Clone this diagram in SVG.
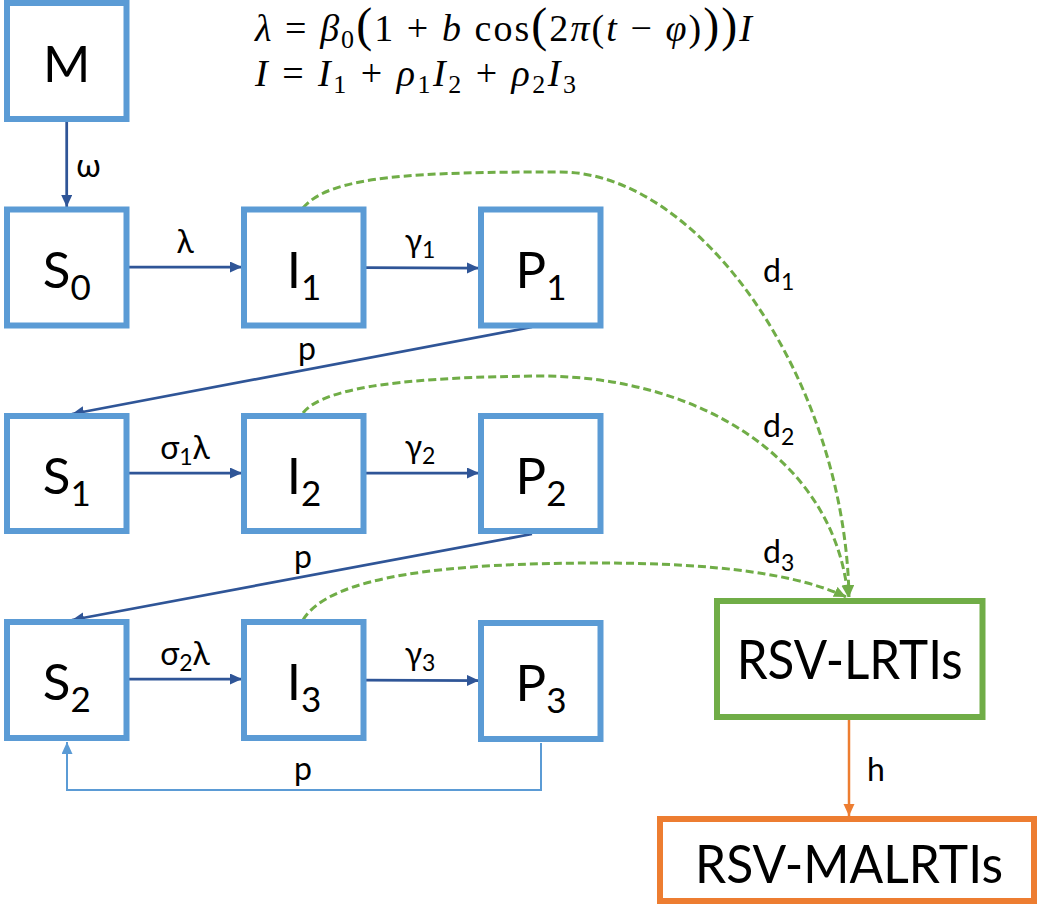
<svg xmlns="http://www.w3.org/2000/svg" width="1042" height="905" viewBox="0 0 1042 905">
<defs>
<style>
.box{fill:#fff;stroke:#5B9BD5;stroke-width:6}
.lt{font-family:Lato,"Open Sans","DejaVu Sans",sans-serif;fill:#000}
.big{font-size:51px}
.bsub{font-size:35px}
.lbl{font-size:32px}
.lsub{font-size:23px}
.math{font-family:"Liberation Serif","DejaVu Serif",serif;font-size:38px;fill:#000}
.i{font-style:italic}
.ms{font-size:26px}
.bp{font-size:48px}
.arr{stroke:#2F5597;stroke-width:2.75;fill:none}
.dash{stroke:#70AD47;stroke-width:3;fill:none;stroke-dasharray:8 4}
</style>
<marker id="ab" markerUnits="userSpaceOnUse" markerWidth="13" markerHeight="12" refX="12" refY="5.5" orient="auto"><path d="M0,0 L12,5.5 L0,11 z" fill="#2F5597"/></marker>
<marker id="al" markerUnits="userSpaceOnUse" markerWidth="13" markerHeight="12" refX="12" refY="5.5" orient="auto"><path d="M0,0 L12,5.5 L0,11 z" fill="#5B9BD5"/></marker>
<marker id="ag" markerUnits="userSpaceOnUse" markerWidth="13" markerHeight="12" refX="12" refY="5.5" orient="auto"><path d="M0,0 L12,5.5 L0,11 z" fill="#70AD47"/></marker>
<marker id="ao" markerUnits="userSpaceOnUse" markerWidth="13" markerHeight="12" refX="12" refY="5.5" orient="auto"><path d="M0,0 L12,5.5 L0,11 z" fill="#ED7D31"/></marker>
</defs>
<rect width="1042" height="905" fill="#fff"/>

<g id="formula">
<text class="math" x="255" y="41" textLength="497" lengthAdjust="spacing"><tspan class="i">λ</tspan> = <tspan class="i">β</tspan><tspan class="ms" dy="7">0</tspan><tspan class="bp" dy="-7">(</tspan>1 + <tspan class="i">b</tspan> cos<tspan class="bp">(</tspan>2<tspan class="i">π</tspan>(<tspan class="i">t</tspan> − <tspan class="i">φ</tspan>)<tspan class="bp">))</tspan><tspan class="i">I</tspan></text>
<text class="math" x="255" y="86" textLength="321" lengthAdjust="spacing"><tspan class="i">I</tspan> = <tspan class="i">I</tspan><tspan class="ms" dy="7">1</tspan><tspan dy="-7"> + </tspan><tspan class="i">ρ</tspan><tspan class="ms" dy="7">1</tspan><tspan class="i" dy="-7">I</tspan><tspan class="ms" dy="7">2</tspan><tspan dy="-7"> + </tspan><tspan class="i">ρ</tspan><tspan class="ms" dy="7">2</tspan><tspan class="i" dy="-7">I</tspan><tspan class="ms" dy="7">3</tspan></text>
</g>

<g id="connectors">
<line class="arr" x1="66.7" y1="122" x2="66.7" y2="207" marker-end="url(#ab)"/>
<line class="arr" x1="128" y1="267" x2="242" y2="267" marker-end="url(#ab)"/>
<line class="arr" x1="364" y1="267.5" x2="479" y2="268" marker-end="url(#ab)"/>
<line class="arr" x1="532" y1="327" x2="72" y2="414" marker-end="url(#ab)"/>
<line class="arr" x1="128" y1="473" x2="242" y2="473" marker-end="url(#ab)"/>
<line class="arr" x1="364" y1="473" x2="479" y2="473" marker-end="url(#ab)"/>
<line class="arr" x1="532" y1="534" x2="72" y2="620" marker-end="url(#ab)"/>
<line class="arr" x1="128" y1="679" x2="242" y2="679" marker-end="url(#ab)"/>
<line class="arr" x1="364" y1="680" x2="479" y2="680.5" marker-end="url(#ab)"/>
<polyline points="541,743 541,790 67,790 67,742" fill="none" stroke="#5B9BD5" stroke-width="2" marker-end="url(#al)"/>
<path class="dash" d="M303,208 C330,175 420,172 560,172 C700,172 845,380 849,597" marker-end="url(#ag)"/>
<path class="dash" d="M303,413 C325,385 420,377 540,376 C700,376 835,460 848,597" marker-end="url(#ag)"/>
<path class="dash" d="M303,620 C330,575 450,563 600,563 C720,563 800,575 846,597" marker-end="url(#ag)"/>
<line x1="849" y1="720" x2="849" y2="816" stroke="#ED7D31" stroke-width="2.5" marker-end="url(#ao)"/>

<text class="lt lbl" x="88.5" y="177" text-anchor="middle">ω</text>
<text class="lt lbl" x="185" y="253" text-anchor="middle">λ</text>
<text class="lt lbl" x="420" y="252" text-anchor="middle">γ<tspan class="lsub" dy="6">1</tspan></text>
<text class="lt lbl" x="307" y="360" text-anchor="middle">p</text>
<text class="lt lbl" x="185" y="459" text-anchor="middle">σ<tspan class="lsub" dy="6">1</tspan><tspan dy="-6">λ</tspan></text>
<text class="lt lbl" x="420" y="458" text-anchor="middle">γ<tspan class="lsub" dy="6">2</tspan></text>
<text class="lt lbl" x="303" y="568" text-anchor="middle">p</text>
<text class="lt lbl" x="185" y="665" text-anchor="middle">σ<tspan class="lsub" dy="6">2</tspan><tspan dy="-6">λ</tspan></text>
<text class="lt lbl" x="420" y="665" text-anchor="middle">γ<tspan class="lsub" dy="6">3</tspan></text>
<text class="lt lbl" x="303" y="780" text-anchor="middle">p</text>
<text class="lt lbl" x="763" y="282">d<tspan class="lsub" dy="8">1</tspan></text>
<text class="lt lbl" x="763" y="437">d<tspan class="lsub" dy="8">2</tspan></text>
<text class="lt lbl" x="763" y="563">d<tspan class="lsub" dy="8">3</tspan></text>
<text class="lt lbl" x="867" y="781">h</text>
</g>

<g id="node-M"><rect class="box" x="7" y="3" width="119.5" height="116"/><text class="lt big" x="66.7" y="81.5" text-anchor="middle">M</text></g>
<g id="node-S0"><rect class="box" x="7" y="209.5" width="119.5" height="116"/><text class="lt big" x="66.7" y="288" text-anchor="middle">S<tspan class="bsub" dy="12">0</tspan></text></g>
<g id="node-I1"><rect class="box" x="244" y="209.5" width="119.5" height="116"/><text class="lt big" x="304" y="288" text-anchor="middle">I<tspan class="bsub" dy="12">1</tspan></text></g>
<g id="node-P1"><rect class="box" x="481" y="209.5" width="119.5" height="116"/><text class="lt big" x="541" y="288" text-anchor="middle">P<tspan class="bsub" dy="12">1</tspan></text></g>
<g id="node-S1"><rect class="box" x="7" y="416" width="119.5" height="115"/><text class="lt big" x="66.7" y="494" text-anchor="middle">S<tspan class="bsub" dy="12">1</tspan></text></g>
<g id="node-I2"><rect class="box" x="244" y="416" width="119.5" height="115"/><text class="lt big" x="304" y="494" text-anchor="middle">I<tspan class="bsub" dy="12">2</tspan></text></g>
<g id="node-P2"><rect class="box" x="481" y="416" width="119.5" height="115"/><text class="lt big" x="541" y="494" text-anchor="middle">P<tspan class="bsub" dy="12">2</tspan></text></g>
<g id="node-S2"><rect class="box" x="7" y="622" width="119.5" height="116"/><text class="lt big" x="66.7" y="700" text-anchor="middle">S<tspan class="bsub" dy="12">2</tspan></text></g>
<g id="node-I3"><rect class="box" x="244" y="622" width="119.5" height="116"/><text class="lt big" x="304" y="700" text-anchor="middle">I<tspan class="bsub" dy="12">3</tspan></text></g>
<g id="node-P3"><rect class="box" x="481" y="623" width="119.5" height="116"/><text class="lt big" x="541" y="701" text-anchor="middle">P<tspan class="bsub" dy="12">3</tspan></text></g>
<g id="node-LRTI"><rect x="717" y="601" width="265.5" height="116" fill="#fff" stroke="#70AD47" stroke-width="6"/><text class="lt" font-size="54" x="849.7" y="679" text-anchor="middle" textLength="226" lengthAdjust="spacingAndGlyphs">RSV-LRTIs</text></g>
<g id="node-MALRTI"><rect x="660" y="819" width="374" height="82" fill="#fff" stroke="#ED7D31" stroke-width="6"/><text class="lt" font-size="53" x="849" y="883" text-anchor="middle" textLength="308" lengthAdjust="spacingAndGlyphs">RSV-MALRTIs</text></g>
</svg>
